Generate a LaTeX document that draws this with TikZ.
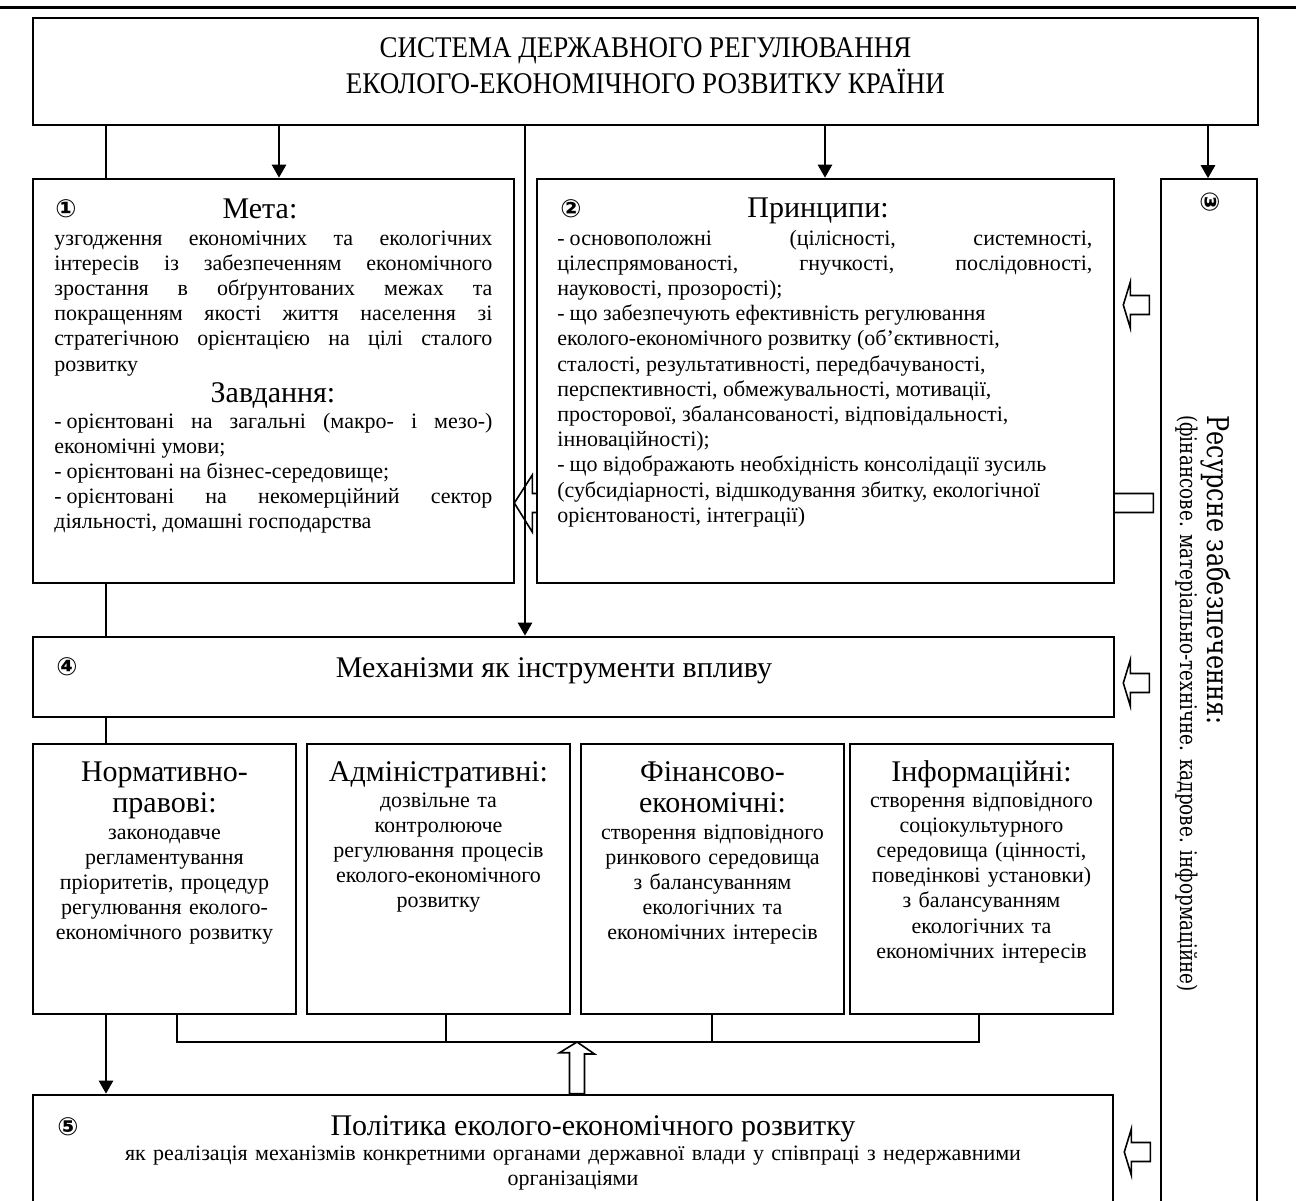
\documentclass[tikz,border=0pt]{standalone}
\usepackage{fontspec}
\setmainfont{Liberation Serif}
\newfontfamily\circfont{DejaVu Sans}
\newfontfamily\titlefont[FakeStretch=0.9]{Liberation Serif}
\newfontfamily\sidefont[FakeStretch=0.8]{DejaVu Serif}
\usetikzlibrary{arrows.meta}
\tolerance=10000
\hbadness=10000
\frenchspacing

\tikzset{
  mainbox/.style={draw, line width=1.3pt, fill=white, inner sep=0pt},
  subbox/.style={draw, line width=1pt, fill=white, inner sep=0pt,
    minimum width=131.5pt, minimum height=135pt},
  sidebox/.style={draw, line width=0.8pt, fill=white, inner sep=0pt},
  link/.style={line width=1.3pt},
  arr/.style={line width=1.3pt, -{Triangle[width=7pt,length=6.5pt]}},
  hollow/.style={draw, line width=0.8pt, fill=white},
  num/.style={font=\circfont\bfseries\fontsize{12.5}{13}\selectfont, inner sep=0pt},
  head/.style={font=\fontsize{15}{15.5}\selectfont, inner sep=0pt, anchor=base},
  body/.style={font=\fontsize{11}{12.6}\selectfont, inner sep=0pt},
  subtext/.style={body, text width=128pt, align=center, anchor=base},
}

\begin{document}
\begin{tikzpicture}[x=0.5pt, y=-0.5pt]
  \useasboundingbox (0,0) rectangle (1296,1200);
  \draw[line width=1.5pt] (0,7.5) -- (1296,7.5);

  % boxes
  \node[mainbox, minimum width=612.5pt, minimum height=53.5pt] (title) at (645.5,71.5) {};
  \node[align=center, inner sep=0pt, font=\titlefont\fontsize{15}{18}\selectfont]
    (titletext) at (645.5,65.5)
    {СИСТЕМА ДЕРЖАВНОГО РЕГУЛЮВАННЯ\\ЕКОЛОГО-ЕКОНОМІЧНОГО РОЗВИТКУ КРАЇНИ};
  \node[mainbox, minimum width=240.5pt, minimum height=202pt] (goal) at (273.5,381) {};
  % this one runs behind the principles box
  \path (goal.east) ++(-1,122) coordinate (tipgoal);
  \filldraw[hollow] (tipgoal) -- ++(18,-28) -- ++(0,18.5) -- ++(621,0) -- ++(0,19)
    -- ++(-621,0) -- ++(0,19.5) -- cycle;
  \node[mainbox, minimum width=288.5pt, minimum height=202pt] (principles) at (825.5,381) {};
  \node[sidebox, minimum width=48pt, minimum height=518pt] (resources) at (1209,697) {};
  \node[mainbox, minimum width=540.5pt, minimum height=40pt] (mechanisms) at (573.5,677) {};
  \node[subbox] (legal) at (164.5,879) {};
  \node[subbox] (admin) at (438.5,879) {};
  \node[subbox] (finance) at (712.5,879) {};
  \node[subbox] (inform) at (981.5,879) {};
  \node[mainbox, minimum width=540pt, minimum height=60pt] (policy) at (573,1155) {};

  % connectors
  \draw[link] (title.south -| 106,0) -- (goal.north -| 106,0);
  \draw[link] (goal.south -| 106,0) -- (mechanisms.north -| 106,0);
  \draw[link] (mechanisms.south -| 106,0) -- (legal.north -| 106,0);
  \draw[arr] (legal.south -| 106,0) -- (policy.north -| 106,0);
  \draw[arr] (title.south -| 279,0) -- (goal.north -| 279,0);
  \draw[arr] (title.south -| 525,0) -- (mechanisms.north -| 525,0);
  \draw[arr] (title.south -| 825,0) -- (principles.north -| 825,0);
  \draw[arr] (title.south -| 1208,0) -- (resources.north -| 1208,0);

  \coordinate (join) at (577,1042);
  \draw[link] (legal.south -| 177,0) |- (join) -| (inform.south -| 979,0);
  \draw[link] (admin.south -| 446,0) -- (join -| 446,0);
  \draw[link] (finance.south -| 712,0) -- (join -| 712,0);
  \filldraw[hollow] (join) -- ++(17.5,12) -- ++(-10,0) -- (policy.north -| 584.5,0)
    -- (policy.north -| 569.5,0) -- ++(0,-41) -- ++(-10,0) -- cycle;

  \path (principles.east) ++(8,-76) coordinate (tipprin);
  \filldraw[hollow] (tipprin) -- ++(7,-23) -- ++(0,13.5) -- ++(19,0) -- ++(0,19)
    -- ++(-19,0) -- ++(0,13.5) -- cycle;
  \path (mechanisms.east) ++(8,6) coordinate (tipmech);
  \filldraw[hollow] (tipmech) -- ++(7,-23) -- ++(0,13.5) -- ++(19,0) -- ++(0,19)
    -- ++(-19,0) -- ++(0,13.5) -- cycle;
  \path (policy.east) ++(10,-3) coordinate (tippol);
  \filldraw[hollow] (tippol) -- ++(7,-23) -- ++(0,13.5) -- ++(19,0) -- ++(0,19)
    -- ++(-19,0) -- ++(0,13.5) -- cycle;

  % box 1
  \node[num] (n1) at (66,209) {①};
  \node[head] (goalhead) at (260,218) {Мета:};
  \node[body, text width=219pt, align=justify, anchor=base west] (goaltext) at (54,245)
    {узгодження економічних та екологічних\linebreak інтересів із забезпеченням економічного\linebreak
     зростання в обґрунтованих межах та\linebreak покращенням якості життя населення зі\linebreak
     стратегічною орієнтацією на цілі сталого\linebreak розвитку};
  \node[head] (taskhead) at (273,402) {Завдання:};
  \node[body, text width=219pt, align=justify, anchor=base west] (tasktext) at (54,428)
    {-\hspace{2.5pt}орієнтовані на загальні (макро- і мезо-)\linebreak економічні умови;\\
     -\hspace{2.5pt}орієнтовані на бізнес-середовище;\\
     -\hspace{2.5pt}орієнтовані на некомерційний сектор\linebreak діяльності, домашні господарства};

  % box 2
  \node[num] (n2) at (571,209) {②};
  \node[head] (prinhead) at (818,217) {Принципи:};
  \node[body, text width=267.5pt, align=justify, anchor=base west] (printext) at (557,245)
    {-\hspace{2.5pt}основоположні (цілісності, системності,\linebreak цілеспрямованості, гнучкості, послідовності,\linebreak
     науковості, прозорості);\\
     -\hspace{2.5pt}що забезпечують ефективність регулювання\\
     еколого-економічного розвитку (об’єктивності,\\
     сталості, результативності, передбачуваності,\\
     перспективності, обмежувальності, мотивації,\\
     просторової, збалансованості, відповідальності,\\
     інноваційності);\\
     -\hspace{2.5pt}що відображають необхідність консолідації зусиль\\
     (субсидіарності, відшкодування збитку, екологічної\\
     орієнтованості, інтеграції)};

  % box 3
  \node[num, rotate=-90] (n3) at (1210,202) {③};
  \node[font=\sidefont\fontsize{11.5}{13.5}\selectfont, inner sep=0pt, text width=420pt,
    align=left, rotate=-90, anchor=base west] (restext) at (1207,415)
    {{\fontsize{15}{17}\selectfont Ресурсне забезпечення:}\\
     (фінансове. матеріально-технічне. кадрове. інформаційне)};

  % box 4
  \node[num] (n4) at (67,667) {④};
  \node[head] (mechhead) at (554,677) {Механізми як інструменти впливу};

  \node[head, text width=128pt, align=center] (legalhead) at (164.5,781) {Нормативно-\\правові:};
  \node[subtext] (legaltext) at (164.5,839)
    {законодавче\\регламентування\\пріоритетів, процедур\\регулювання еколого-\\економічного розвитку};
  \node[head] (adminhead) at (438.5,781) {Адміністративні:};
  \node[subtext] (admintext) at (438.5,807)
    {дозвільне та\\контролююче\\регулювання процесів\\еколого-економічного\\розвитку};
  \node[head, text width=128pt, align=center] (financehead) at (712.5,781) {Фінансово-\\економічні:};
  \node[subtext] (financetext) at (712.5,839)
    {створення відповідного\\ринкового середовища\\з балансуванням\\екологічних та\\економічних інтересів};
  \node[head] (informhead) at (981.5,781) {Інформаційні:};
  \node[subtext] (informtext) at (981.5,807)
    {створення відповідного\\соціокультурного\\середовища (цінності,\\поведінкові установки)\\з балансуванням\\екологічних та\\економічних інтересів};

  % box 5
  \node[num] (n5) at (68,1127) {⑤};
  \node[head] (polhead) at (593,1135) {Політика еколого-економічного розвитку};
  \node[body, text width=530pt, align=center, anchor=base] (poltext) at (573,1160)
    {як реалізація механізмів конкретними органами державної влади у співпраці з недержавними\\організаціями};
\end{tikzpicture}
\end{document}
